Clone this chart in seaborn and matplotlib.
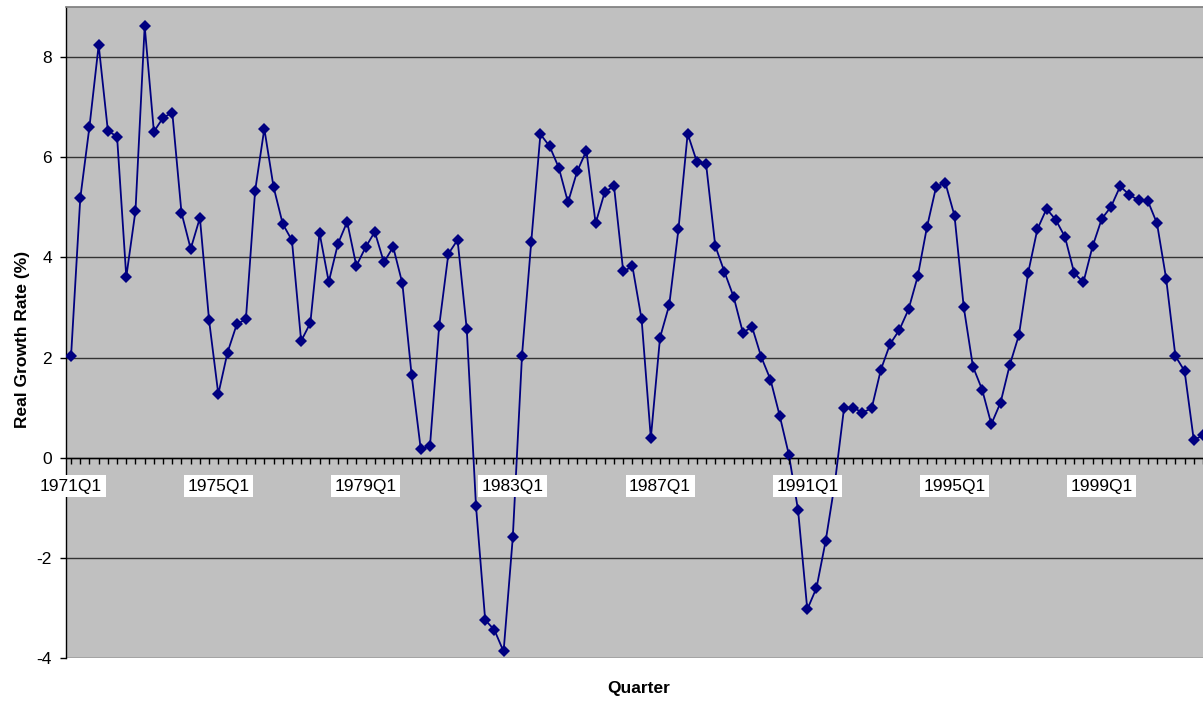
import matplotlib
matplotlib.use("Agg")
import matplotlib.pyplot as plt
import seaborn as sns
import pandas as pd

# Real GDP growth rate, quarterly, starting 1971Q1
growth = [
    2.03, 5.18, 6.61, 8.24, 6.53, 6.41, 3.61, 4.93, 8.62, 6.51, 6.79, 6.89,
    4.89, 4.17, 4.79, 2.74, 1.27, 2.10, 2.66, 2.77, 5.33, 6.57, 5.41, 4.67,
    4.34, 2.33, 2.69, 4.49, 3.51, 4.27, 4.71, 3.83, 4.20, 4.51, 3.90, 4.21,
    3.48, 1.66, 0.17, 0.23, 2.63, 4.07, 4.35, 2.56, -0.96, -3.24, -3.44, -3.87,
    -1.59, 2.04, 4.30, 6.46, 6.22, 5.79, 5.10, 5.72, 6.13, 4.68, 5.31, 5.42,
    3.72, 3.82, 2.76, 0.39, 2.40, 3.05, 4.56, 6.47, 5.91, 5.87, 4.23, 3.71,
    3.21, 2.50, 2.61, 2.01, 1.56, 0.84, 0.06, -1.05, -3.03, -2.60, -1.66, -0.50,
    1.00, 1.00, 0.90, 0.99, 1.76, 2.27, 2.55, 2.96, 3.62, 4.60, 5.41, 5.49,
    4.83, 3.01, 1.82, 1.36, 0.67, 1.10, 1.85, 2.45, 3.69, 4.56, 4.97, 4.75,
    4.41, 3.69, 3.50, 4.22, 4.77, 5.01, 5.42, 5.25, 5.14, 5.13, 4.68, 3.57,
    2.03, 1.73, 0.35, 0.45,
]
quarters = [f"{1971 + i // 4}Q{i % 4 + 1}" for i in range(len(growth))]
tick_labels = ["1971Q1", "1975Q1", "1979Q1", "1983Q1", "1987Q1", "1991Q1", "1995Q1", "1999Q1"]
y_ticks = [-4, -2, 0, 2, 4, 6, 8]

df = pd.DataFrame({"quarter": quarters, "growth": growth})
df["pos"] = range(len(df))

sns.set_theme(style="white")
plt.rcParams["font.family"] = ["Liberation Sans", "DejaVu Sans"]
plt.rcParams["axes.unicode_minus"] = False
plt.rcParams["text.color"] = "black"
plt.rcParams["axes.labelcolor"] = "black"
plt.rcParams["xtick.color"] = "black"
plt.rcParams["ytick.color"] = "black"

fig = plt.figure(figsize=(12.03, 7.02), dpi=100)
ax = fig.add_axes([66 / 1203, 44 / 702, 1137 / 1203, 651 / 702])
ax.set_facecolor("#C0C0C0")

sns.lineplot(data=df, x="pos", y="growth", ax=ax, color="#000080", linewidth=1.3,
             marker="D", markersize=6, markeredgewidth=0, zorder=3)

ax.set_xlim(-0.55, 122.64)
ax.set_ylim(-4, 9)

# horizontal gridlines
ax.set_yticks(y_ticks)
ax.yaxis.grid(True, color="#333333", linewidth=1)
ax.set_axisbelow(True)

# category axis drawn at zero, tick every quarter; labels sit on top of the line
label_pos = [quarters.index(t) for t in tick_labels]
ax.set_xticks(label_pos)
ax.set_xticklabels(tick_labels)
ax.set_xticks(range(len(growth)), minor=True)
ax.xaxis.set_zorder(4)
ax.spines["bottom"].set_position(("data", 0))
ax.spines["bottom"].set_color("black")
ax.spines["bottom"].set_linewidth(1)
ax.spines["left"].set_color("black")
ax.spines["left"].set_linewidth(1)
ax.spines["top"].set_color("#808080")
ax.spines["right"].set_visible(False)

ax.tick_params(axis="x", which="both", direction="out", length=4, width=1,
               color="black", bottom=True)
ax.tick_params(axis="x", which="major", pad=11, labelsize=12.5, labelcolor="black")
ax.tick_params(axis="y", which="major", direction="out", length=4, width=1,
               color="black", left=True, pad=6, labelsize=12.5, labelcolor="black")
for lab in ax.get_xticklabels():
    lab.set_bbox(dict(facecolor="white", edgecolor="none", pad=2.5))

ax.set_xlabel("Quarter", fontsize=12.5, fontweight="bold", color="black")
ax.set_ylabel("Real Growth Rate (%)", fontsize=12.5, fontweight="bold", color="black")
ax.xaxis.set_label_coords(0.504, -0.035)
ax.yaxis.set_label_coords(-0.032, 0.49)

fig.savefig("out.png", dpi=100, facecolor="white")
